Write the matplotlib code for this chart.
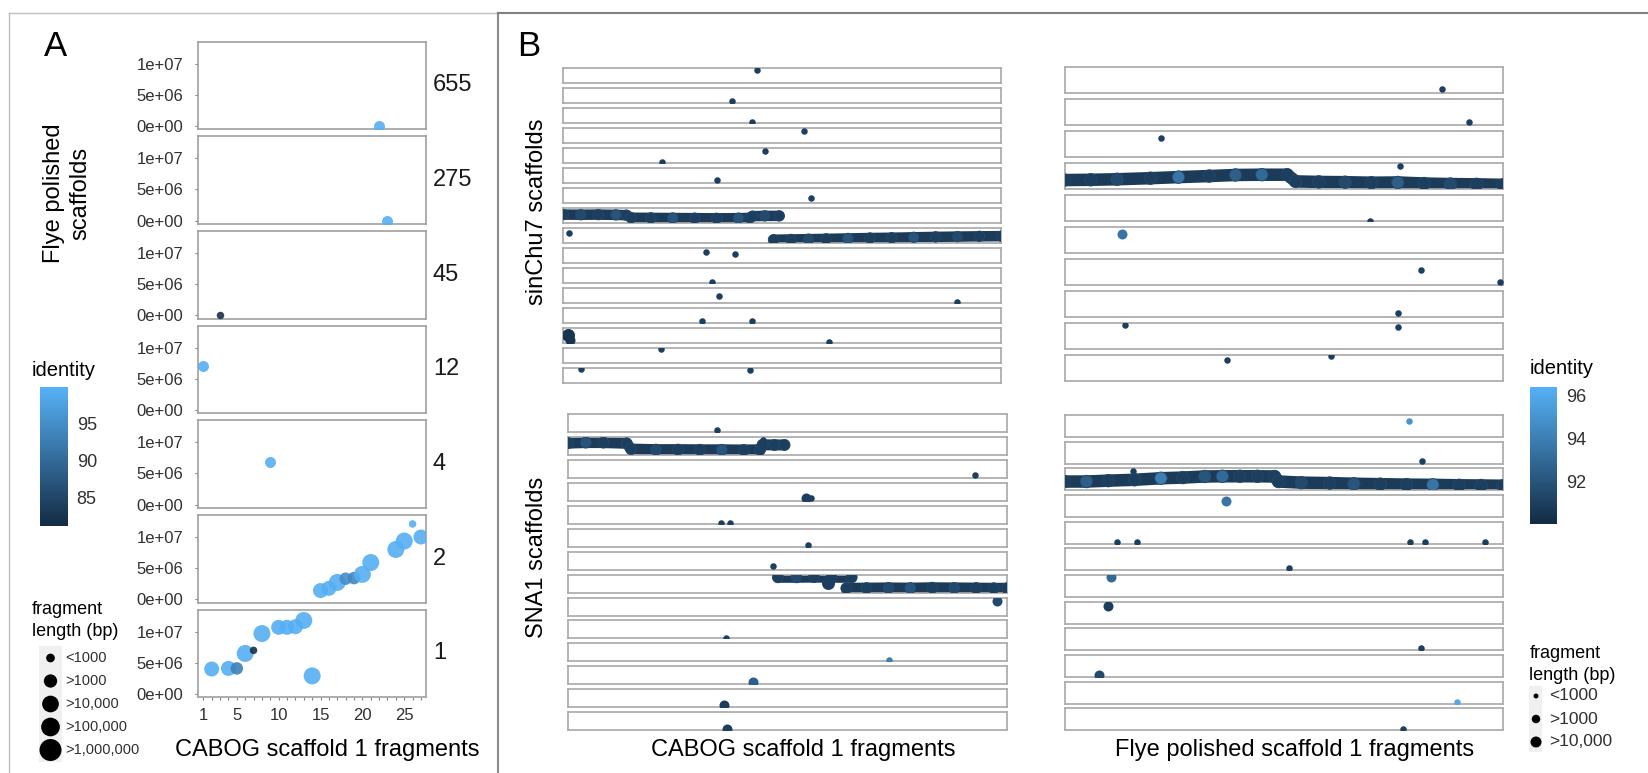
import matplotlib
matplotlib.use('Agg')
import matplotlib.pyplot as plt
from matplotlib.colors import LinearSegmentedColormap, Normalize
from matplotlib.cm import ScalarMappable
from matplotlib.patches import Rectangle

plt.rcParams['font.family'] = ['Liberation Sans', 'DejaVu Sans']

# ---------------- data, panel A ----------------
facet_labels = ['655', '275', '45', '12', '4', '2', '1']
a_facet = [0, 1, 2, 3, 4] + [5] * 11 + [6] * 11
a_fragment = [22, 23, 3, 1, 9,
              15, 16, 17, 18, 19, 20, 21, 24, 25, 26, 27,
              2, 4, 5, 6, 7, 8, 10, 11, 12, 13, 14]
a_position = [0.0, 0.0, 0.1e6, 7.1e6, 6.8e6,
              1.4e6, 1.75e6, 2.7e6, 3.3e6, 3.4e6, 4.0e6, 5.9e6, 8.0e6, 9.35e6, 12.1e6, 10.0e6,
              4.0e6, 4.1e6, 4.1e6, 6.5e6, 7.0e6, 9.7e6, 10.7e6, 10.7e6, 10.8e6, 11.8e6, 2.9e6]
a_identity = [99.5, 99.5, 82, 99.5, 99.5,
              99.5, 99.5, 99.5, 95, 94, 99.5, 99.5, 99.5, 99.5, 99.5, 99.5,
              99.5, 99.5, 93, 99.5, 82, 99.5, 99.5, 99.5, 99.5, 99.5, 99.5]
a_lenclass = [2, 2, 1, 2, 2,
              4, 4, 5, 3, 3, 5, 5, 5, 5, 1, 4,
              4, 4, 3, 5, 1, 5, 4, 4, 4, 5, 5]
a_xticks = [1, 5, 10, 15, 20, 25]
a_cbar_ticks = [85, 90, 95]
a_size_labels = ['<1000', '>1000', '>10,000', '>100,000', '>1,000,000']

# ---------------- data, panel B ----------------
# single fragments: strip index, position (% of scaffold), height in strip, identity, size class
tl_strip = [0, 1, 2, 3, 4, 4, 5, 6, 8, 9, 9, 10, 11, 11, 12, 12, 13, 13, 13, 14, 15, 15]
tl_x = [44.2, 38.6, 43.0, 54.9, 46.0, 22.6, 35.0, 56.6, 1.3, 32.6, 39.2, 33.9, 35.6, 89.8,
        31.7, 43.1, 1.0, 1.5, 60.6, 22.2, 4.1, 42.7]
tl_y = [0.86, 0.14, 0.06, 0.84, 0.84, 0.03, 0.16, 0.33, 0.67, 0.77, 0.60, 0.05, 0.47, 0.05,
        0.10, 0.10, 0.55, 0.20, 0.06, 0.96, 0.97, 0.88]
tl_id = [91] * 16 + [90.5, 90.5, 91, 91, 91, 91]
tl_cls = [1] * 16 + [3, 2, 1, 1, 1, 1]

tr_strip = [0, 1, 2, 3, 4, 5, 6, 6, 7, 8, 8, 9, 9]
tr_x = [86.1, 92.2, 22.0, 76.5, 69.6, 13.0, 81.4, 99.4, 76.0, 13.8, 76.1, 37.0, 60.8]
tr_y = [0.16, 0.14, 0.71, 0.88, 0.03, 0.72, 0.575, 0.14, 0.16, 0.90, 0.85, 0.80, 0.97]
tr_id = [91, 91, 91, 91, 91, 93.5, 91, 91, 91, 91, 91, 91, 91]
tr_cls = [1, 1, 1, 1, 1, 2, 1, 1, 1, 1, 1, 1, 1]

bl_strip = [0, 1, 2, 3, 3, 4, 4, 5, 6, 7, 8, 9, 10, 11, 12, 13]
bl_x = [34.0, 44.3, 92.8, 54.2, 55.4, 34.9, 36.9, 54.7, 46.7, 59.3, 97.7, 35.9, 73.1, 42.2, 35.6, 36.1]
bl_y = [0.13, 0.85, 0.15, 0.17, 0.15, 0.07, 0.07, 0.09, 0.20, 0.52, 0.80, 0.05, 0.05, 0.10, 0.12, 0.08]
bl_id = [91, 91, 91, 91, 91, 91, 91, 91, 91, 91, 91.5, 91, 94, 92.5, 91, 91]
bl_cls = [1, 1, 1, 2, 1, 1, 1, 1, 1, 3, 2, 1, 1, 2, 2, 2]

br_strip = [0, 1, 2, 3, 4, 4, 4, 4, 4, 5, 6, 7, 8, 9, 10, 11]
br_x = [78.6, 81.5, 15.6, 36.8, 11.9, 16.5, 78.7, 82.2, 95.9, 51.3, 10.5, 9.9, 81.4, 7.9, 89.5, 77.1]
br_y = [0.73, 0.10, 0.89, 0.71, 0.08, 0.08, 0.08, 0.08, 0.08, 0.10, 0.90, 0.82, 0.10, 0.10, 0.07, 0.05]
br_id = [95, 91, 91, 93.5, 91, 91, 91, 91, 91, 91, 93, 91, 91, 91.5, 96, 91]
br_cls = [1, 1, 1, 2, 1, 1, 1, 1, 1, 1, 2, 2, 1, 2, 1, 1]

# runs of consecutive fragments (syntenic blocks)
tl_band_a_x = [0, 4, 8, 12, 14.4, 15.5, 20, 25, 30, 35, 40, 42.6, 43.2, 46, 49.3]
tl_band_a_y = [0.56, 0.55, 0.56, 0.54, 0.52, 0.34, 0.33, 0.32, 0.31, 0.30, 0.31, 0.33, 0.45, 0.47, 0.47]
tl_band_a_id = [91, 91.5, 91, 92, 91, 91, 91, 92, 91, 91, 92, 91, 91, 91.5, 91]
tl_band_b_x = [48.0, 52, 56, 60, 65, 70, 75, 80, 85, 90, 95, 100]
tl_band_b_y = [0.20, 0.22, 0.24, 0.26, 0.29, 0.32, 0.34, 0.37, 0.40, 0.42, 0.44, 0.45]
tl_band_b_id = [91, 91, 91.5, 91, 92, 91, 91, 92, 91, 91.5, 91, 91]

tr_band_x = [0, 6, 12, 19.6, 26, 33, 39, 45, 50.8, 52.7, 58, 64, 70, 76, 82, 88, 94, 100]
tr_band_y = [0.35, 0.36, 0.38, 0.42, 0.46, 0.50, 0.54, 0.55, 0.55, 0.30, 0.28, 0.27, 0.25, 0.26,
             0.22, 0.20, 0.19, 0.17]
tr_band_id = [91, 91, 91.5, 91, 93.5, 91, 92.5, 93, 91, 91, 91, 91.5, 91, 92.5, 91, 91.5, 91, 91]

bl_band_a_x = [0, 4, 8, 13.3, 14.3, 20, 25, 30, 35, 40, 43.7, 44.3, 47, 49.3]
bl_band_a_y = [0.67, 0.70, 0.70, 0.66, 0.34, 0.31, 0.31, 0.30, 0.30, 0.29, 0.30, 0.58, 0.57, 0.57]
bl_band_a_id = [91, 92, 91, 91, 91, 91.5, 91, 91, 92, 91, 91, 91, 91, 91]
bl_band_b_x = [47.8, 52, 56, 60, 64.6]
bl_band_b_y = [0.85, 0.85, 0.86, 0.85, 0.85]
bl_band_b_id = [91, 91.5, 91, 91, 91]
bl_band_c_x = [63.4, 68, 73, 78, 83, 88, 93, 97, 100]
bl_band_c_y = [0.24, 0.25, 0.26, 0.25, 0.27, 0.26, 0.25, 0.24, 0.24]
bl_band_c_id = [91, 91, 91.5, 92, 91, 91.5, 91, 91, 91]

br_band_x = [0, 5, 10, 16, 22, 27, 32, 36, 40, 44, 47.9, 48.8, 54, 60.5, 66, 72, 78, 84, 90, 95, 100]
br_band_y = [0.40, 0.40, 0.44, 0.48, 0.55, 0.58, 0.63, 0.64, 0.64, 0.64, 0.63, 0.40, 0.35, 0.33,
             0.30, 0.28, 0.26, 0.25, 0.23, 0.22, 0.21]
br_band_id = [91, 92.5, 91, 91, 94, 91, 92, 93, 91, 91, 91, 91, 91.5, 91, 92, 91, 91, 93.5, 91, 91, 91]

b_cbar_ticks = [92, 94, 96]
b_size_labels = ['<1000', '>1000', '>10,000']

# ---------------- figure ----------------
W, H = 1649, 773
fig = plt.figure(figsize=(W / 100, H / 100), dpi=100)


def px_axes(x0, y0, x1, y1):
    """Axes placed in pixel coordinates (origin top left)."""
    return fig.add_axes([x0 / W, 1 - y1 / H, (x1 - x0) / W, (y1 - y0) / H])


def dia(d):
    """Marker diameter in pixels -> scatter size."""
    return (d * 0.72) ** 2


cmap = LinearSegmentedColormap.from_list('identity', ['#132B43', '#56B1F7'])
norm_a = Normalize(81.2, 99.9)
norm_b = Normalize(90.0, 96.4)
a_diam = {1: 7.5, 2: 11, 3: 12.5, 4: 15, 5: 17}
b_diam = {1: 6.5, 2: 10, 3: 13}

over = px_axes(0, 0, W, H)
over.set_xlim(0, W)
over.set_ylim(H, 0)
over.axis('off')

# frames
over.plot([9, 497], [13, 13], color='#BDBDBD', lw=1)
over.plot([9, 9], [13, 773], color='#BDBDBD', lw=1)
over.plot([498, 498], [13, 773], color='#8C8C8C', lw=1.5)
over.plot([498, 1649], [13, 13], color='#7F7F7F', lw=1.5)

over.text(56, 46, 'A', fontsize=25, ha='center', va='center')
over.text(529, 46, 'B', fontsize=25, ha='center', va='center')

# ---------------- panel A ----------------
for i, lab in enumerate(facet_labels):
    top = 41.7 + i * 94.67
    ax = px_axes(198.3, top, 426, top + 87.5)
    idx = [k for k, f in enumerate(a_facet) if f == i]
    ax.scatter([a_fragment[k] for k in idx], [a_position[k] for k in idx],
               s=[dia(a_diam[a_lenclass[k]]) for k in idx],
               c=[a_identity[k] for k in idx], cmap=cmap, norm=norm_a,
               alpha=0.9, linewidths=0, zorder=3)
    ax.set_xlim(0.4, 27.6)
    ax.set_ylim(-0.53e6, 1.353e7)
    ax.set_yticks([0, 5e6, 1e7])
    ax.set_yticklabels(['0e+00', '5e+06', '1e+07'])
    ax.tick_params(axis='y', length=2.5, color='#808080', labelsize=12, pad=8.5,
                   labelcolor='#303030')
    for sp in ax.spines.values():
        sp.set_color('#A0A0A0')
        sp.set_linewidth(1.2)
    if i < len(facet_labels) - 1:
        ax.set_xticks([])
    else:
        ax.set_xticks(range(1, 28))
        ax.set_xticklabels([str(v) if v in a_xticks else '' for v in range(1, 28)])
        ax.tick_params(axis='x', length=2.5, color='#808080', labelsize=12, pad=5,
                       labelcolor='#303030')
    over.text(433, top + 43.75, lab, fontsize=17, ha='left', va='center', color='#1A1A1A')

over.text(67, 193, 'Flye polished\nscaffolds', fontsize=17, rotation=90,
          ha='center', va='center', linespacing=1.25)
over.text(327, 750, 'CABOG scaffold 1 fragments', fontsize=17, ha='center', va='center')

# identity legend, A
over.text(32, 370, 'identity', fontsize=14.5, ha='left', va='center')
cax = px_axes(40, 387.3, 67.7, 525.7)
cb = fig.colorbar(ScalarMappable(norm=norm_a, cmap=cmap), cax=cax)
cb.outline.set_visible(False)
cb.set_ticks(a_cbar_ticks)
cax.tick_params(length=0, labelsize=13, pad=6.5, labelcolor='#303030')

# size legend, A
over.text(32, 610, 'fragment', fontsize=13, ha='left', va='center')
over.text(32, 632, 'length (bp)', fontsize=13, ha='left', va='center')
over.add_patch(Rectangle((39, 646), 23, 116, fc='#F0F0F0', ec='none'))
a_leg_y = [658, 681, 704, 727, 750]
over.scatter([50.5] * 5, a_leg_y, s=[dia(d) for d in [8.7, 13.3, 16.7, 18.7, 22]],
             color='black', linewidths=0)
for yy, lab in zip(a_leg_y, a_size_labels):
    over.text(65, yy, lab, fontsize=10.5, ha='left', va='center', color='#303030')


# ---------------- panel B ----------------
def strip_panel(x0, x1, top0, step, h, n, strips, xs, ys, ids, cls, bands, band_w):
    axes = []
    for i in range(n):
        t = top0 + i * step
        ax = px_axes(x0, t, x1, t + h)
        ax.set_xlim(0, 100)
        ax.set_ylim(0, 1)
        ax.set_xticks([])
        ax.set_yticks([])
        for sp in ax.spines.values():
            sp.set_color('#A8A8A8')
            sp.set_linewidth(1.2)
        axes.append(ax)
    for strip, bx, by, bid in bands:
        ax = axes[strip]
        ax.plot(bx, by, color=cmap(norm_b(90.8)), lw=band_w * 0.72,
                solid_capstyle='round', solid_joinstyle='round', zorder=2)
        ax.scatter(bx, by, s=dia(band_w), c=bid, cmap=cmap, norm=norm_b,
                   edgecolors='#24486B', linewidths=0.6, zorder=3)
    for s, x, y, v, c in zip(strips, xs, ys, ids, cls):
        axes[s].scatter([x], [y], s=dia(b_diam[c]), c=[v], cmap=cmap, norm=norm_b,
                        linewidths=0, zorder=4)
    return axes


strip_panel(563.3, 1001.3, 68.3, 20, 14.3, 16, tl_strip, tl_x, tl_y, tl_id, tl_cls,
            [(7, tl_band_a_x, tl_band_a_y, tl_band_a_id),
             (8, tl_band_b_x, tl_band_b_y, tl_band_b_id)], 10.5)
strip_panel(1064.5, 1503, 66.7, 32, 26.7, 10, tr_strip, tr_x, tr_y, tr_id, tr_cls,
            [(3, tr_band_x, tr_band_y, tr_band_id)], 12.5)
strip_panel(568.3, 1006.9, 414.3, 22.9, 18, 14, bl_strip, bl_x, bl_y, bl_id, bl_cls,
            [(1, bl_band_a_x, bl_band_a_y, bl_band_a_id),
             (7, bl_band_b_x, bl_band_b_y, bl_band_b_id),
             (7, bl_band_c_x, bl_band_c_y, bl_band_c_id)], 11)
strip_panel(1064.5, 1503, 415, 26.67, 22, 12, br_strip, br_x, br_y, br_id, br_cls,
            [(2, br_band_x, br_band_y, br_band_id)], 12.5)

over.text(537, 212, 'sinChu7 scaffolds', fontsize=17, rotation=90, ha='center', va='center')
over.text(537, 557, 'SNA1 scaffolds', fontsize=17, rotation=90, ha='center', va='center')
over.text(803, 750, 'CABOG scaffold 1 fragments', fontsize=17, ha='center', va='center')
over.text(1295, 750, 'Flye polished scaffold 1 fragments', fontsize=17, ha='center', va='center')

# identity legend, B
over.text(1530, 368, 'identity', fontsize=14.5, ha='left', va='center')
cax2 = px_axes(1530, 386.7, 1557, 524)
cb2 = fig.colorbar(ScalarMappable(norm=norm_b, cmap=cmap), cax=cax2)
cb2.outline.set_visible(False)
cb2.set_ticks(b_cbar_ticks)
cax2.tick_params(length=0, labelsize=13, pad=6.5, labelcolor='#303030')

# size legend, B
over.text(1529.5, 654, 'fragment', fontsize=13, ha='left', va='center')
over.text(1529.5, 676, 'length (bp)', fontsize=13, ha='left', va='center')
over.add_patch(Rectangle((1529.5, 686), 13, 66, fc='#F0F0F0', ec='none'))
b_leg_y = [696, 719, 742]
over.scatter([1536] * 3, b_leg_y, s=[dia(d) for d in [5, 8.5, 11]],
             color='black', linewidths=0)
for yy, lab in zip(b_leg_y, b_size_labels):
    over.text(1549.5, yy, lab, fontsize=12.5, ha='left', va='center', color='#303030')

fig.savefig('out.png', dpi=100)
